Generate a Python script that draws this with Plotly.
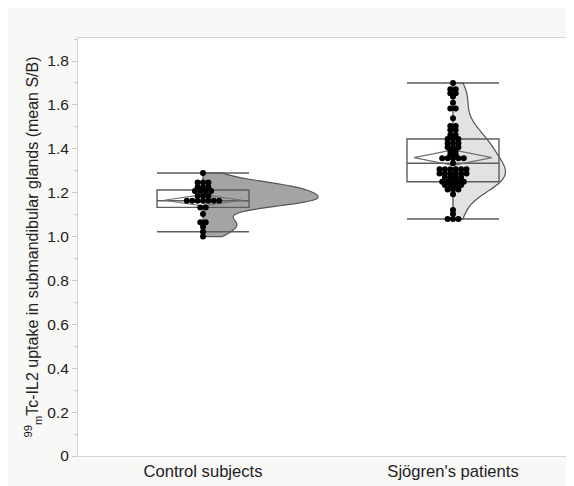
import numpy as np
import plotly.graph_objects as go

# ---------------- data ----------------
categories = ["Control subjects", "Sjögren's patients"]

control = [1.000, 1.022, 1.045, 1.065, 1.065, 1.103, 1.133, 1.133,
           1.163, 1.163, 1.163, 1.163, 1.163, 1.163, 1.163,
           1.185, 1.185, 1.185,
           1.208, 1.208, 1.208, 1.208,
           1.225, 1.225, 1.225,
           1.247, 1.247, 1.247,
           1.290]

sjogren = [1.080, 1.080, 1.080, 1.103, 1.121, 1.193,
           1.215, 1.215, 1.215,
           1.235, 1.235, 1.235, 1.235,
           1.250, 1.250, 1.250, 1.250, 1.250,
           1.270, 1.270, 1.270, 1.270,
           1.288, 1.288, 1.288, 1.288, 1.288, 1.288,
           1.307, 1.307, 1.307, 1.307, 1.307, 1.307,
           1.334,
           1.357, 1.357, 1.357, 1.357, 1.357,
           1.376, 1.376,
           1.392, 1.392,
           1.407, 1.407, 1.407,
           1.425, 1.425, 1.425,
           1.445, 1.445, 1.445,
           1.463, 1.463,
           1.486, 1.486,
           1.504, 1.504,
           1.539,
           1.584, 1.584,
           1.610, 1.638,
           1.653, 1.653,
           1.671, 1.671,
           1.700]

y_ticks = [0, 0.2, 0.4, 0.6, 0.8, 1.0, 1.2, 1.4, 1.6, 1.8]
y_tick_labels = ["0", "0.2", "0.4", "0.6", "0.8", "1.0", "1.2", "1.4", "1.6", "1.8"]
y_title = "<sup>99</sup><sub>m</sub>Tc-IL2 uptake in submandibular glands (mean S/B)"

# ---------------- style ----------------
W, H = 574, 486
M = dict(l=70, r=4, t=30, b=38)
x_range = [-0.5, 1.5]
y_range = [0, 1.905]
px_per_x = (W - M["l"] - M["r"]) / (x_range[1] - x_range[0])
dot_step_px = 5.4

positions = [0, 1]
violin_fill = ["#a4a4a4", "#e2e2e2"]
violin_width = [0.92, 0.42]
violin_bw = [0.027, None]
box_width = 0.368
diamond_width = 0.312
line_col = "#5c5c5c"
font_family = "Liberation Sans, Arial, sans-serif"


def swarm_offsets(vals):
    vals = np.asarray(vals)
    off = np.zeros(len(vals))
    for v in np.unique(vals):
        idx = np.where(vals == v)[0]
        k = len(idx)
        for j, i in enumerate(idx):
            off[i] = (j - (k - 1) / 2) * dot_step_px / px_per_x
    return off


fig = go.Figure()
groups = [control, sjogren]

for g, pos, fc, vw, bw in zip(groups, positions, violin_fill, violin_width, violin_bw):
    vkw = dict(bandwidth=bw) if bw else {}
    fig.add_trace(go.Violin(
        y=g, x0=pos, side="positive", width=vw, spanmode="hard",
        fillcolor=fc, line=dict(color="#555555", width=1.2), opacity=1,
        points=False, box_visible=False, meanline_visible=False,
        hoverinfo="skip", **vkw))

for g, pos in zip(groups, positions):
    fig.add_trace(go.Box(
        y=g, x0=pos, width=box_width, whiskerwidth=1, boxpoints="outliers",
        marker=dict(opacity=0, size=1),
        fillcolor="rgba(0,0,0,0)", line=dict(color=line_col, width=1.4),
        hoverinfo="skip"))

for g, pos in zip(groups, positions):
    a = np.asarray(g)
    m = a.mean()
    ci = 1.96 * a.std(ddof=1) / np.sqrt(len(a))
    hw = diamond_width / 2
    fig.add_trace(go.Scatter(
        x=[pos - hw, pos, pos + hw, pos, pos - hw],
        y=[m, m + ci, m, m - ci, m],
        mode="lines", line=dict(color="#707070", width=1.2),
        hoverinfo="skip"))

for g, pos in zip(groups, positions):
    fig.add_trace(go.Scatter(
        x=pos + swarm_offsets(g), y=g, mode="markers",
        marker=dict(color="black", size=6, line=dict(width=0)),
        hoverinfo="skip"))

axis_col = "#d6d6d6"
fig.update_layout(
    width=W, height=H, margin=M, showlegend=False,
    paper_bgcolor="#f8f8f6", plot_bgcolor="white",
    font=dict(family=font_family, size=15, color="#222222"),
    violinmode="overlay", boxmode="overlay",
    xaxis=dict(range=x_range, tickvals=positions, ticktext=categories,
               showgrid=False, zeroline=False, showline=True, mirror=True,
               linecolor=axis_col, linewidth=1, ticks="",
               tickfont=dict(size=16.6)),
    yaxis=dict(range=y_range, tickvals=y_ticks, ticktext=y_tick_labels,
               showgrid=False, zeroline=False, showline=True,
               linecolor=axis_col, linewidth=1, ticks="outside", ticklen=5,
               tickcolor="#c8c8c8", tickfont=dict(size=15.5),
               minor=dict(ticks="outside", ticklen=3, dtick=0.1, tick0=0,
                          tickcolor="#c8c8c8"),
               title=dict(text=y_title, font=dict(size=16), standoff=4)),
)

fig.write_html("out.html")
